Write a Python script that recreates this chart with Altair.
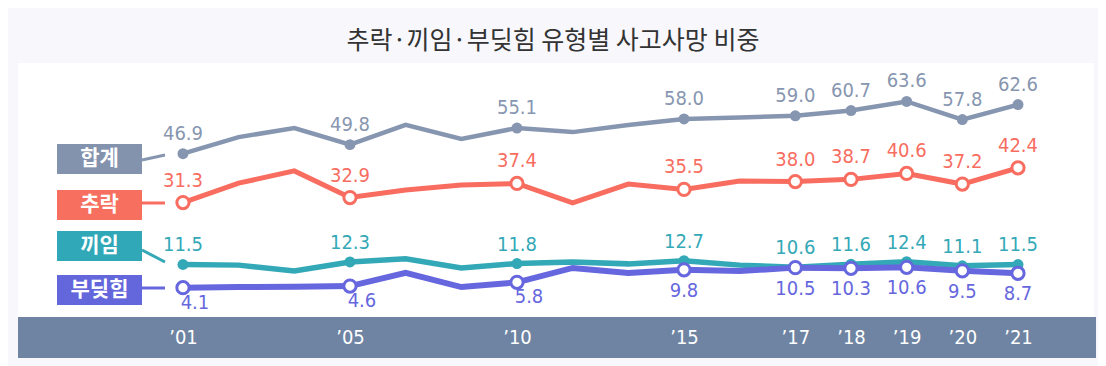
import json
import altair as alt
import pandas as pd

# ---------------- data ----------------
tick_labels = ["’01", "", "", "’05", "", "", "’10", "", "", "’15", "", "’17", "’18", "’19", "’20", "’21"]
series_names = ["합계", "추락", "끼임", "부딪힘"]
total = [46.9, 52.2, 55.1, 49.8, 56.1, 51.6, 55.1, 53.8, 56.1, 58.0, 58.5, 59.0, 60.7, 63.6, 57.8, 62.6]
fall = [31.3, 37.5, 41.4, 32.9, 35.3, 36.9, 37.4, 31.2, 37.2, 35.5, 38.2, 38.0, 38.7, 40.6, 37.2, 42.4]
caught = [11.5, 11.3, 9.4, 12.3, 13.3, 10.4, 11.8, 12.3, 11.7, 12.7, 11.3, 10.6, 11.6, 12.4, 11.1, 11.5]
struck = [4.1, 4.3, 4.4, 4.6, 8.8, 4.3, 5.8, 10.4, 8.8, 9.8, 9.4, 10.5, 10.3, 10.6, 9.5, 8.7]
title_text = "추락·끼임·부딪힘 유형별 사고사망 비중"

# ---------------- styles ----------------
colors = ["#8796b0", "#f86d5f", "#33a8b6", "#6667de"]
box_colors = ["#8493ad", "#f76f5f", "#31a8b8", "#6466dc"]
NUM_FONT = "Liberation Sans Narrow, DejaVu Sans Condensed, Roboto, sans-serif"
KR_FONT = "Noto Sans CJK KR"
W, H = 1090, 303

records = []
for s, vals in zip(series_names, [total, fall, caught, struck]):
    for i, (v, t) in enumerate(zip(vals, tick_labels)):
        records.append({"series": s, "idx": i, "value": v, "labeled": t != "", "label": f"{v:.1f}"})
df = pd.DataFrame(records)

label_idx = [i for i, t in enumerate(tick_labels) if t]
label_expr = json.dumps(tick_labels, ensure_ascii=False) + "[datum.value]"

x_enc = alt.X(
    "idx:Q",
    scale=alt.Scale(domain=[-3.143, 16.437], nice=False, zero=False),
    axis=alt.Axis(
        values=label_idx, labelExpr=label_expr, grid=False, domain=False, ticks=False,
        tickSize=0, labelColor="white", labelFont=NUM_FONT, labelFontSize=20,
        labelPadding=20, labelBaseline="middle", offset=-49, title=None,
        labelFlush=False, labelOverlap=False, zindex=1,
    ),
)
y_enc = alt.Y("value:Q", scale=alt.Scale(domain=[-20.93, 75.88], nice=False, zero=False), axis=None)
color_scale = alt.Scale(domain=series_names, range=colors)

dummy = pd.DataFrame({"a": [0]})
panel = alt.Chart(dummy).mark_rect(color="white").encode(
    x=alt.value(10), x2=alt.value(1086), y=alt.value(0), y2=alt.value(254))
band = alt.Chart(dummy).mark_rect(color="#6e84a2").encode(
    x=alt.value(10), x2=alt.value(1088), y=alt.value(254), y2=alt.value(295))
title = alt.Chart(pd.DataFrame({"t": [title_text]})).mark_text(
    font=KR_FONT, fontSize=25, color="#333333", baseline="middle", align="center"
).encode(x=alt.value(W / 2), y=alt.value(-22), text="t:N")

base = alt.Chart(df)
lines = base.mark_line().encode(
    x=x_enc, y=y_enc,
    color=alt.Color("series:N", scale=color_scale, legend=None),
    strokeWidth=alt.StrokeWidth("series:N", scale=alt.Scale(domain=series_names, range=[4.5, 6, 6, 6]), legend=None),
    detail="series:N",
)
filled = base.transform_filter(
    "datum.labeled && (datum.series == '합계' || datum.series == '끼임')"
).mark_circle(size=120, opacity=1).encode(
    x=x_enc, y=y_enc, color=alt.Color("series:N", scale=color_scale, legend=None))
hollow = base.transform_filter(
    "datum.labeled && (datum.series == '추락' || datum.series == '부딪힘')"
).mark_point(shape="circle", filled=True, fill="white", size=150, strokeWidth=3, opacity=1).encode(
    x=x_enc, y=y_enc, stroke=alt.Stroke("series:N", scale=color_scale, legend=None))

layers = [panel, band, title, lines, filled, hollow]

# value labels
label_style = [
    ("datum.series == '합계'", 0, -20),
    ("datum.series == '추락'", 0, -22),
    ("datum.series == '끼임'", 0, -19),
    ("datum.series == '부딪힘' && datum.idx <= 6", 12, 15),
    ("datum.series == '부딪힘' && datum.idx > 6", 0, 21),
]
for cond, dx, dy in label_style:
    layers.append(
        base.transform_filter("datum.labeled && " + cond).mark_text(
            dx=dx, dy=dy, font=NUM_FONT, fontSize=20, baseline="middle", align="center"
        ).encode(x=x_enc, y=y_enc, text="label:N",
                 color=alt.Color("series:N", scale=color_scale, legend=None))
    )

# series name boxes with connectors
box_cy = [96, 142, 183, 227]
connectors = [(97, 92), (140, 140), (187, 199), (225, 225)]
for s, cy, bc, c, (y1, y2) in zip(series_names, box_cy, box_colors, colors, connectors):
    d = pd.DataFrame({"series": [s]})
    layers.append(alt.Chart(d).mark_rect(color=bc).encode(
        x=alt.value(49), x2=alt.value(134), y=alt.value(cy - 15), y2=alt.value(cy + 15)))
    layers.append(alt.Chart(d).mark_text(
        color="white", font=KR_FONT, fontSize=21, fontWeight="bold", baseline="middle", align="center"
    ).encode(x=alt.value(91.5), y=alt.value(cy), text="series:N"))
    layers.append(alt.Chart(d).mark_rule(color=c, strokeWidth=3).encode(
        x=alt.value(134), x2=alt.value(157), y=alt.value(y1), y2=alt.value(y2)))

chart = alt.layer(*layers).properties(
    width=W, height=H,
    autosize=alt.AutoSizeParams(type="none"),
    padding={"top": 55, "left": 0, "right": 0, "bottom": 0},
).configure(background="#f7f7fc").configure_view(stroke=None)

chart.save("out.html", embed_options={"renderer": "svg", "actions": False})
